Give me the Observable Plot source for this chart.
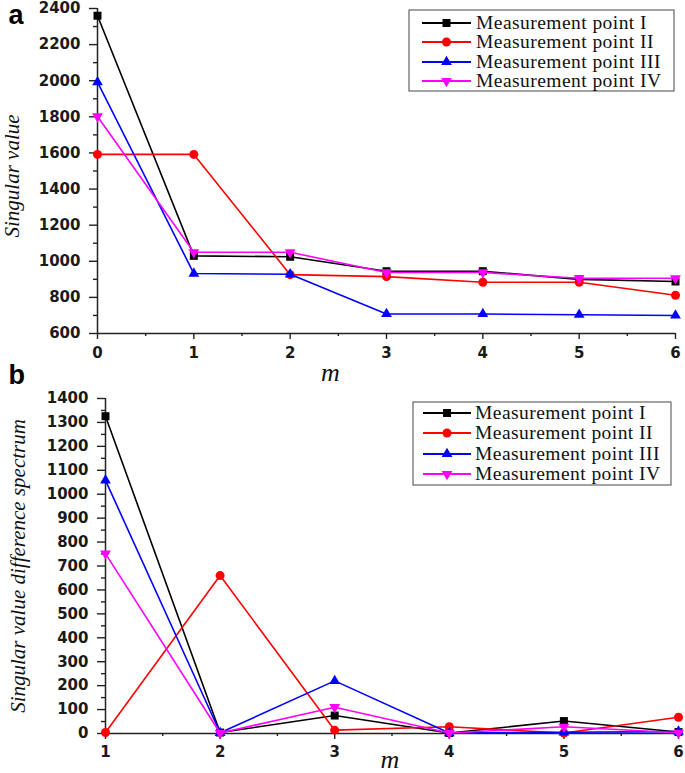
<!DOCTYPE html>
<html><head><meta charset="utf-8">
<script src="https://cdn.jsdelivr.net/npm/d3@7"></script>
<script src="https://cdn.jsdelivr.net/npm/@observablehq/plot@0.6"></script>
<style>
body{margin:0;background:#fff;}
#wrap{position:relative;width:685px;height:773px;overflow:hidden;background:#fff;}
#wrap > svg{position:absolute;left:0;}
</style></head><body>
<div id="wrap"></div>
<script>
// ---- data ----
const seriesNames = ["Measurement point I","Measurement point II","Measurement point III","Measurement point IV"];
const seriesColors = ["#000000","#ff0000","#0000ff","#ff00ff"];
const seriesSymbols = ["square","circle","triangle","triangle"];
const seriesRotate = [0,0,0,180];
const seriesR = [4.5,4.5,4,4];

// panel a: singular values
const mA = [0,1,2,3,4,5,6];
const svI   = [2360,1030,1025,945,945,900,888];
const svII  = [1592,1592,926,915,884,884,812];
const svIII = [1992,932,928,708,708,704,700];
const svIV  = [1802,1050,1050,938,938,906,906];

// panel b: singular value difference spectrum
const mB = [1,2,3,4,5,6];
const dI   = [1326,4,75,2,52,6];
const dII  = [4,660,14,28,2,68];
const dIII = [1058,3,220,2,5,8];
const dIV  = [752,2,110,2,28,3];

const xTicksA = [0,1,2,3,4,5,6];
const yTicksA = [600,800,1000,1200,1400,1600,1800,2000,2200,2400];
const xTicksB = [1,2,3,4,5,6];
const yTicksB = [0,100,200,300,400,500,600,700,800,900,1000,1100,1200,1300,1400];

const yLabelA = "Singular value";
const yLabelB = "Singular value difference spectrum";
const xLabel = "m";

// ---- helpers ----
const fontSans = "DejaVu Sans, sans-serif";
const fontSerif = "Liberation Serif, Times New Roman, serif";
const axisColor = "#222";
const fmt = d => String(d);

function rowsFor(xs, arrays) {
  const rows = [];
  arrays.forEach((vals, s) => vals.forEach((v, i) => rows.push({m: xs[i], v, s})));
  return rows;
}
function seriesMarks(rows) {
  const marks = [];
  seriesNames.forEach((name, s) => {
    const r = rows.filter(d => d.s === s);
    marks.push(Plot.line(r, {x: "m", y: "v", stroke: seriesColors[s], strokeWidth: 1.6}));
    marks.push(Plot.dot(r, {x: "m", y: "v", symbol: seriesSymbols[s], r: seriesR[s], fill: seriesColors[s], stroke: "none", rotate: seriesRotate[s]}));
  });
  return marks;
}
function axisMarks(xMajor, xMinor, yMajor, yMinor, xt, yt) {
  return [
    Plot.axisY({ticks: yMajor, tickFormat: fmt, tickSize: 8, tickPadding: yt, label: null, stroke: axisColor, strokeWidth: 1.4, fill: "#1a1a1a", fontSize: 15, fontFamily: fontSans, fontWeight: "bold"}),
    Plot.axisY({ticks: yMinor, tickSize: 4, tickFormat: () => "", label: null, stroke: axisColor, strokeWidth: 1.4}),
    Plot.axisX({ticks: xMajor, tickFormat: fmt, tickSize: 6, tickPadding: xt, label: null, stroke: axisColor, strokeWidth: 1.4, fill: "#1a1a1a", fontSize: 15, fontFamily: fontSans, fontWeight: "bold"}),
    Plot.axisX({ticks: xMinor, tickSize: 3, tickFormat: () => "", label: null, stroke: axisColor, strokeWidth: 1.4})
  ];
}
const styleObj = {background: "transparent", fontFamily: fontSans, fontSize: "15px", color: "#111", overflow: "visible"};

// ---- panel a ----
const rowsA = rowsFor(mA, [svI, svII, svIII, svIV]);
const chartA = Plot.plot({
  width: 685, height: 385,
  marginTop: 8, marginBottom: 52, marginLeft: 97, marginRight: 10,
  x: {domain: [0, 6]}, y: {domain: [600, 2400]},
  style: styleObj,
  marks: [
    ...axisMarks(xTicksA, d3.range(0.5, 6, 1), yTicksA, d3.range(700, 2400, 200), 8, 9),
    Plot.ruleX([0], {stroke: axisColor, strokeWidth: 1.5}),
    Plot.ruleY([600], {stroke: axisColor, strokeWidth: 1.5}),
    ...seriesMarks(rowsA),
    Plot.text([yLabelA], {text: d => d, frameAnchor: "left", rotate: -90, dx: -93, dy: 5, textAnchor: "middle", lineAnchor: "top", fontSize: 21, fontStyle: "italic", fontFamily: fontSerif, fill: "#111"}),
    Plot.text([xLabel], {text: d => d, frameAnchor: "bottom", dx: -56, dy: 47, textAnchor: "middle", lineAnchor: "bottom", fontSize: 26, fontStyle: "italic", fontFamily: fontSerif, fill: "#111"}),
    Plot.text(["a"], {text: d => d, frameAnchor: "top-left", dx: -89, dy: 15, textAnchor: "start", lineAnchor: "bottom", fontSize: 27, fontWeight: "bold", fontFamily: "Liberation Sans, Arial, sans-serif", fill: "#000"})
  ]
});
chartA.style.top = "0px";

// ---- panel b ----
const rowsB = rowsFor(mB, [dI, dII, dIII, dIV]);
const chartB = Plot.plot({
  width: 685, height: 413,
  marginTop: 38, marginBottom: 40, marginLeft: 105, marginRight: 7,
  x: {domain: [1, 6]}, y: {domain: [0, 1400]},
  style: styleObj,
  marks: [
    ...axisMarks(xTicksB, d3.range(1.5, 6, 1), yTicksB, d3.range(50, 1400, 100), 7, 9),
    Plot.ruleX([1], {stroke: axisColor, strokeWidth: 1.5}),
    Plot.ruleY([0], {stroke: axisColor, strokeWidth: 1.5}),
    ...seriesMarks(rowsB),
    Plot.text([yLabelB], {text: d => d, frameAnchor: "left", rotate: -90, dx: -95, textAnchor: "middle", lineAnchor: "top", fontSize: 21, fontStyle: "italic", fontFamily: fontSerif, fill: "#111"}),
    Plot.text([xLabel], {text: d => d, frameAnchor: "bottom", dx: -2, dy: 34, textAnchor: "middle", lineAnchor: "bottom", fontSize: 26, fontStyle: "italic", fontFamily: fontSerif, fill: "#111"}),
    Plot.text(["b"], {text: d => d, frameAnchor: "top-left", dx: -97, dy: -15, textAnchor: "start", lineAnchor: "bottom", fontSize: 27, fontWeight: "bold", fontFamily: "Liberation Sans, Arial, sans-serif", fill: "#000"})
  ]
});
chartB.style.top = "360px";

const wrap = document.getElementById("wrap");
wrap.appendChild(chartA);
wrap.appendChild(chartB);

// ---- legends ----
function legend(left, top, w, h, rowY, lx0, lx1, tx) {
  const svg = d3.select(wrap).append("svg")
    .attr("width", w + 2).attr("height", h + 2)
    .style("position", "absolute").style("left", (left - 1) + "px").style("top", (top - 1) + "px");
  svg.append("rect").attr("x", 1).attr("y", 1).attr("width", w).attr("height", h)
    .attr("fill", "#fff").attr("stroke", "#666").attr("stroke-width", 1.2);
  const sym = {square: d3.symbolSquare, circle: d3.symbolCircle, triangle: d3.symbolTriangle};
  seriesNames.forEach((name, s) => {
    const y = 1 + rowY[s];
    const g = svg.append("g");
    g.append("line").attr("x1", 1 + lx0).attr("x2", 1 + lx1).attr("y1", y).attr("y2", y)
      .attr("stroke", seriesColors[s]).attr("stroke-width", 1.8);
    const cx = 1 + (lx0 + lx1) / 2;
    g.append("path").attr("d", d3.symbol(sym[seriesSymbols[s]], Math.PI * seriesR[s] * seriesR[s])())
      .attr("transform", `translate(${cx},${y}) rotate(${seriesRotate[s]})`).attr("fill", seriesColors[s]);
    g.append("text").attr("x", 1 + tx).attr("y", y).attr("dy", "0.33em")
      .attr("font-family", fontSerif).attr("font-size", 19.5).attr("letter-spacing", "0.45px")
      .attr("fill", "#111").text(name);
  });
}
legend(409, 10, 265, 81, [13, 32, 52, 71], 13, 62, 67);
legend(413, 402, 258, 83, [11, 31, 52, 72], 10, 58, 62);
</script>
</body></html>
